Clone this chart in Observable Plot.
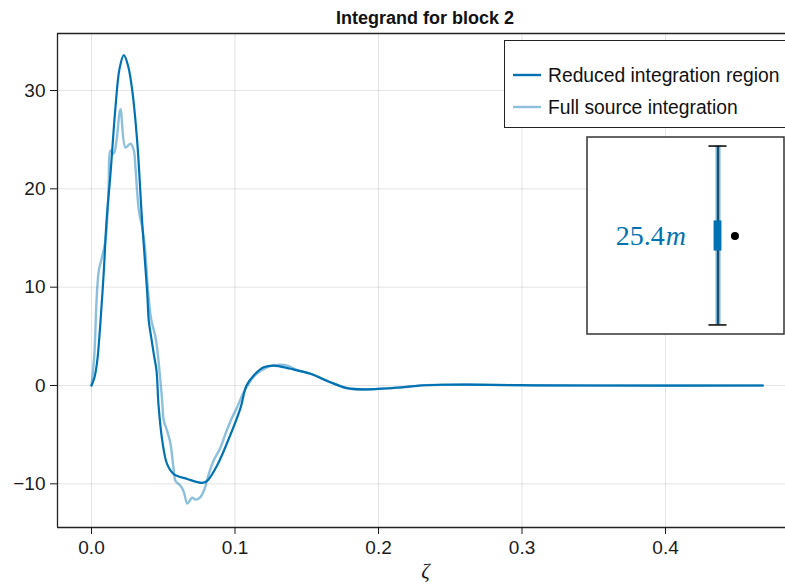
<!DOCTYPE html>
<html><head><meta charset="utf-8">
<script src="https://cdn.jsdelivr.net/npm/d3@7"></script>
<script src="https://cdn.jsdelivr.net/npm/@observablehq/plot@0.6"></script>
<style>
html,body{margin:0;padding:0;background:#fff;overflow:hidden}
#wrap{position:relative;width:785px;height:586px;overflow:hidden;font-family:"Liberation Sans",Arial,sans-serif;color:#111}
#title{height:32px;box-sizing:border-box;padding-top:8px;margin-left:57px;width:736px;text-align:center;font-weight:bold;font-size:18px;line-height:20px}
#chart svg{display:block}
#legend{position:absolute;left:504px;top:40px;width:320px;height:88px;box-sizing:border-box;border:1.3px solid #222;background:#fff}
#inset{position:absolute;left:585px;top:135px}
</style></head>
<body><div id="wrap">
<div id="title">Integrand for block 2</div>
<div id="chart"></div>
<div id="legend"></div>
<div id="inset"></div>
</div>
<script>
// ---- data ----
const titleText = "Integrand for block 2";
const seriesNames = ["Reduced integration region", "Full source integration"];
const xTicks = [0, 0.1, 0.2, 0.3, 0.4];
const yTicks = [-10, 0, 10, 20, 30];
const xLabel = "ζ";

const reducedX = [0, 0.0021, 0.004, 0.0063, 0.0086, 0.0105, 0.0132, 0.0167, 0.0195, 0.0225, 0.0255, 0.0284, 0.0318, 0.0353, 0.0388, 0.0399, 0.0416, 0.0434, 0.0453, 0.0467, 0.0493, 0.0527, 0.0573, 0.0667, 0.0771, 0.0806, 0.0876, 0.0946, 0.1038, 0.108, 0.1135, 0.12, 0.127, 0.1386, 0.1525, 0.1664, 0.178, 0.19, 0.2, 0.215, 0.229, 0.245, 0.262, 0.3, 0.35, 0.4678];
const reducedY = [0, 0.85, 2.5, 6.6, 11.7, 16.8, 21.5, 28.3, 32.2, 33.6, 32.5, 30.0, 24.9, 16.6, 9.5, 6.6, 4.9, 3.2, 1.5, -2.0, -5.6, -8.0, -9.0, -9.5, -9.9, -9.7, -8.1, -5.8, -2.3, 0, 1.1, 1.86, 2.03, 1.7, 1.2, 0.34, -0.27, -0.4, -0.34, -0.2, 0.0, 0.08, 0.1, 0.03, 0.0, 0];

const fullX = [0, 0.002, 0.0035, 0.0051, 0.0074, 0.0097, 0.0109, 0.012, 0.0132, 0.0155, 0.0174, 0.0202, 0.0237, 0.0272, 0.0295, 0.0306, 0.033, 0.0353, 0.0371, 0.0395, 0.0415, 0.0446, 0.0462, 0.048, 0.0492, 0.0504, 0.0527, 0.055, 0.0573, 0.0585, 0.062, 0.0643, 0.0667, 0.069, 0.0702, 0.0725, 0.0755, 0.0783, 0.0817, 0.0852, 0.0899, 0.0934, 0.0969, 0.1015, 0.105, 0.108, 0.113, 0.118, 0.124, 0.13, 0.136, 0.142, 0.1525, 0.1664, 0.178, 0.19, 0.2, 0.215, 0.229, 0.245, 0.262, 0.3, 0.35, 0.4678];
const fullY = [0, 3.2, 8.6, 11.7, 13.1, 14.75, 16.8, 20.5, 23.9, 23.6, 24.9, 28.1, 24.2, 24.6, 23.9, 22.2, 17.8, 16.1, 14.2, 9.5, 6.8, 4.9, 3.2, 0.5, -1.5, -3.6, -4.6, -5.9, -8.6, -9.7, -10.2, -10.8, -12.0, -11.6, -11.4, -11.6, -11.4, -10.7, -9.0, -7.6, -6.3, -4.9, -3.6, -2.2, -1.0, -0.2, 0.9, 1.5, 1.95, 2.1, 2.05, 1.65, 1.2, 0.34, -0.27, -0.4, -0.34, -0.2, 0.0, 0.08, 0.1, 0.03, 0.0, 0];

// inset (box-and-whisker summary, normalised units)
const insetLabel = "25.4";
const insetUnit = "m";
const insetWhisker = [0.046, 0.954];
const insetBox = [0.421, 0.574];
const insetPoint = 0.497;

// ---- build ----
const BLUE = "#0072b2";
const reduced = reducedX.map((x, i) => ({x, y: reducedY[i]}));
const full = fullX.map((x, i) => ({x, y: fullY[i]}));
const XD = [-0.0237, 0.4836], YD = [-14.44, 35.80];
document.getElementById("title").textContent = titleText;

const chart = Plot.plot({
  width: 785, height: 554, marginLeft: 57, marginRight: 0, marginTop: 1, marginBottom: 59,
  x: {domain: XD}, y: {domain: YD},
  style: {fontFamily: "Liberation Sans, Arial, sans-serif", fontSize: "19px", color: "#1a1a1a", background: "white", overflow: "visible"},
  marks: [
    Plot.gridX(xTicks, {stroke: "#000", strokeOpacity: 0.11, strokeWidth: 1}),
    Plot.gridY(yTicks, {stroke: "#000", strokeOpacity: 0.11, strokeWidth: 1}),
    Plot.line(full, {x: "x", y: "y", stroke: BLUE, strokeOpacity: 0.45, strokeWidth: 2.4, curve: "catmull-rom"}),
    Plot.line(reduced, {x: "x", y: "y", stroke: BLUE, strokeWidth: 2.2, curve: "catmull-rom"}),
    Plot.ruleX([XD[0]], {stroke: "#222", strokeWidth: 1.3}),
    Plot.ruleY([YD[0], YD[1]], {stroke: "#222", strokeWidth: 1.3}),
    Plot.axisX(xTicks, {tickFormat: d3.format(".1f"), tickSize: 7, tickPadding: 6, fontSize: 19, label: null}),
    Plot.axisY(yTicks, {tickSize: 7, tickPadding: 5, fontSize: 19, label: null}),
    Plot.text([xLabel], {frameAnchor: "bottom", dx: 4, dy: 50, fontStyle: "italic", fontFamily: "Liberation Serif, serif", fontSize: 21, fill: "#1a1a1a"})
  ]
});
document.getElementById("chart").appendChild(chart);

// legend
const legendStyles = [{opacity: 1}, {opacity: 0.45}];
const lg = document.getElementById("legend");
let svg = `<svg width="320" height="88" style="position:absolute;left:-1px;top:-1px">`;
seriesNames.forEach((name, i) => {
  const cy = 35 + i * 32;
  svg += `<line x1="9" x2="37" y1="${cy}" y2="${cy}" stroke="${BLUE}" stroke-opacity="${legendStyles[i].opacity}" stroke-width="2.4"/>`;
  svg += `<text x="44" y="${cy}" dy="0.35em" font-size="19.3" fill="#111" font-family="Liberation Sans, Arial, sans-serif">${name}</text>`;
});
svg += `</svg>`;
lg.innerHTML = svg;

// inset
const BX = 0.665, DX = 0.751, CAP = 0.046, BW = 0.02, TX = 0.395;
const inset = Plot.plot({
  width: 200, height: 200, margin: 1.5,
  x: {domain: [0, 1], axis: null}, y: {domain: [0, 1], axis: null},
  style: {background: "transparent", overflow: "visible"},
  marks: [
    Plot.frame({fill: "white", stroke: "#333", strokeWidth: 1.5}),
    Plot.ruleX([BX], {y1: insetWhisker[0], y2: insetWhisker[1], stroke: BLUE, strokeOpacity: 0.55, strokeWidth: 5}),
    Plot.ruleX([BX], {y1: insetWhisker[0], y2: insetWhisker[1], stroke: "#0b3550", strokeWidth: 1.6}),
    Plot.ruleY(insetWhisker, {x1: BX - CAP, x2: BX + CAP, stroke: "#111", strokeWidth: 1.6}),
    Plot.rect([insetBox], {x1: BX - BW, x2: BX + BW, y1: d => d[0], y2: d => d[1], fill: BLUE}),
    Plot.dot([insetPoint], {x: DX, y: d => d, r: 4, fill: "#000", stroke: "none"}),
    Plot.text([insetLabel], {x: TX, y: insetPoint, textAnchor: "end", fill: BLUE, fontFamily: "Liberation Serif, serif", fontSize: 28}),
    Plot.text([insetUnit], {x: TX, y: insetPoint, textAnchor: "start", dx: 1, fill: BLUE, fontStyle: "italic", fontFamily: "Liberation Serif, serif", fontSize: 28})
  ]
});
document.getElementById("inset").appendChild(inset);
</script>
</body></html>
